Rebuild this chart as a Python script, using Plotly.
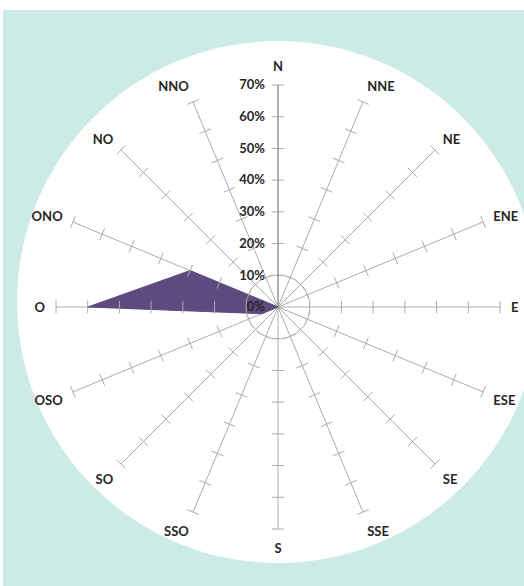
import numpy as np
import plotly.graph_objects as go

# ---- data ----
directions = ["N", "NNE", "NE", "ENE", "E", "ESE", "SE", "SSE",
              "S", "SSO", "SO", "OSO", "O", "ONO", "NO", "NNO"]
frequency = [0, 0, 0, 0, 0, 0, 0, 0, 0, 0, 0, 5.5, 60, 30, 0, 0]  # percent
radial_ticks = [0, 10, 20, 30, 40, 50, 60, 70]
radial_labels = ["0%", "10%", "20%", "30%", "40%", "50%", "60%", "70%"]

W, H = 524, 586
cx, cy, R = 278, 307, 222          # polar centre / radius in px
teal = "#cdebe6"
purple = "#5f4a80"
grid = "#ababab"

step = 360 / len(directions)
theta = [i * step for i in range(len(directions))]

fig = go.Figure()

# dashed inner circle at 10 %
circ_t = np.linspace(0, 360, 361)
fig.add_trace(go.Scatterpolar(r=[radial_ticks[1]] * len(circ_t), theta=circ_t, mode="lines",
                              line=dict(color="#b0b0b0", width=1, dash="5px,4px"),
                              hoverinfo="skip", showlegend=False))

# data polygon
fig.add_trace(go.Scatterpolar(r=frequency + [frequency[0]], theta=theta + [theta[0]],
                              mode="lines", fill="toself", fillcolor=purple,
                              line=dict(color=purple, width=1),
                              showlegend=False))

# tick marks on each spoke
tr, tt, ta = [], [], []
for th in theta:
    for rv in radial_ticks[1:]:
        tr.append(rv)
        tt.append(th)
        ta.append(th)
fig.add_trace(go.Scatterpolar(r=tr, theta=tt, mode="markers",
                              marker=dict(symbol="line-ew", size=9, angle=ta,
                                          line=dict(color=grid, width=1)),
                              hoverinfo="skip", showlegend=False))

fig.update_layout(
    width=W, height=H,
    margin=dict(l=0, r=0, t=0, b=0),
    paper_bgcolor="white",
    showlegend=False,
    font=dict(family="Lato", size=13, color="#262626"),
    polar=dict(
        domain=dict(x=[(cx - R) / W, (cx + R) / W],
                    y=[(H - cy - R) / H, (H - cy + R) / H]),
        bgcolor="rgba(0,0,0,0)",
        angularaxis=dict(
            type="linear", rotation=90, direction="clockwise",
            tickmode="array", tickvals=theta, ticktext=directions,
            showgrid=True, gridcolor=grid, gridwidth=1,
            showline=False, ticks="outside", ticklen=8,
            tickcolor="rgba(0,0,0,0)",
            tickfont=dict(family="Lato", size=13, color="#262626", weight="bold"),
        ),
        radialaxis=dict(
            range=[0, 70], tickmode="array", tickvals=radial_ticks,
            ticktext=radial_labels, angle=90, side="counterclockwise",
            showgrid=False, showline=True, linecolor="#8c8c8c", linewidth=1,
            ticks="outside", ticklen=8, tickcolor="rgba(0,0,0,0)",
            tickfont=dict(family="Lato", size=13, color="#262626", weight="bold"),
            tickangle=90,
        ),
    ),
    shapes=[
        dict(type="rect", xref="paper", yref="paper", layer="below",
             x0=3 / W, x1=1, y0=0, y1=(H - 10) / H,
             fillcolor=teal, line=dict(width=0)),
        dict(type="circle", xref="paper", yref="paper", layer="below",
             x0=(278 - 261) / W, x1=(278 + 261) / W,
             y0=(H - 563) / H, y1=(H - 41) / H,
             fillcolor="white", line=dict(width=0)),
    ],
)

fig.write_html("out.html", config={"displayModeBar": False},
               post_script="document.body.style.margin='0';document.body.style.overflow='hidden';")
